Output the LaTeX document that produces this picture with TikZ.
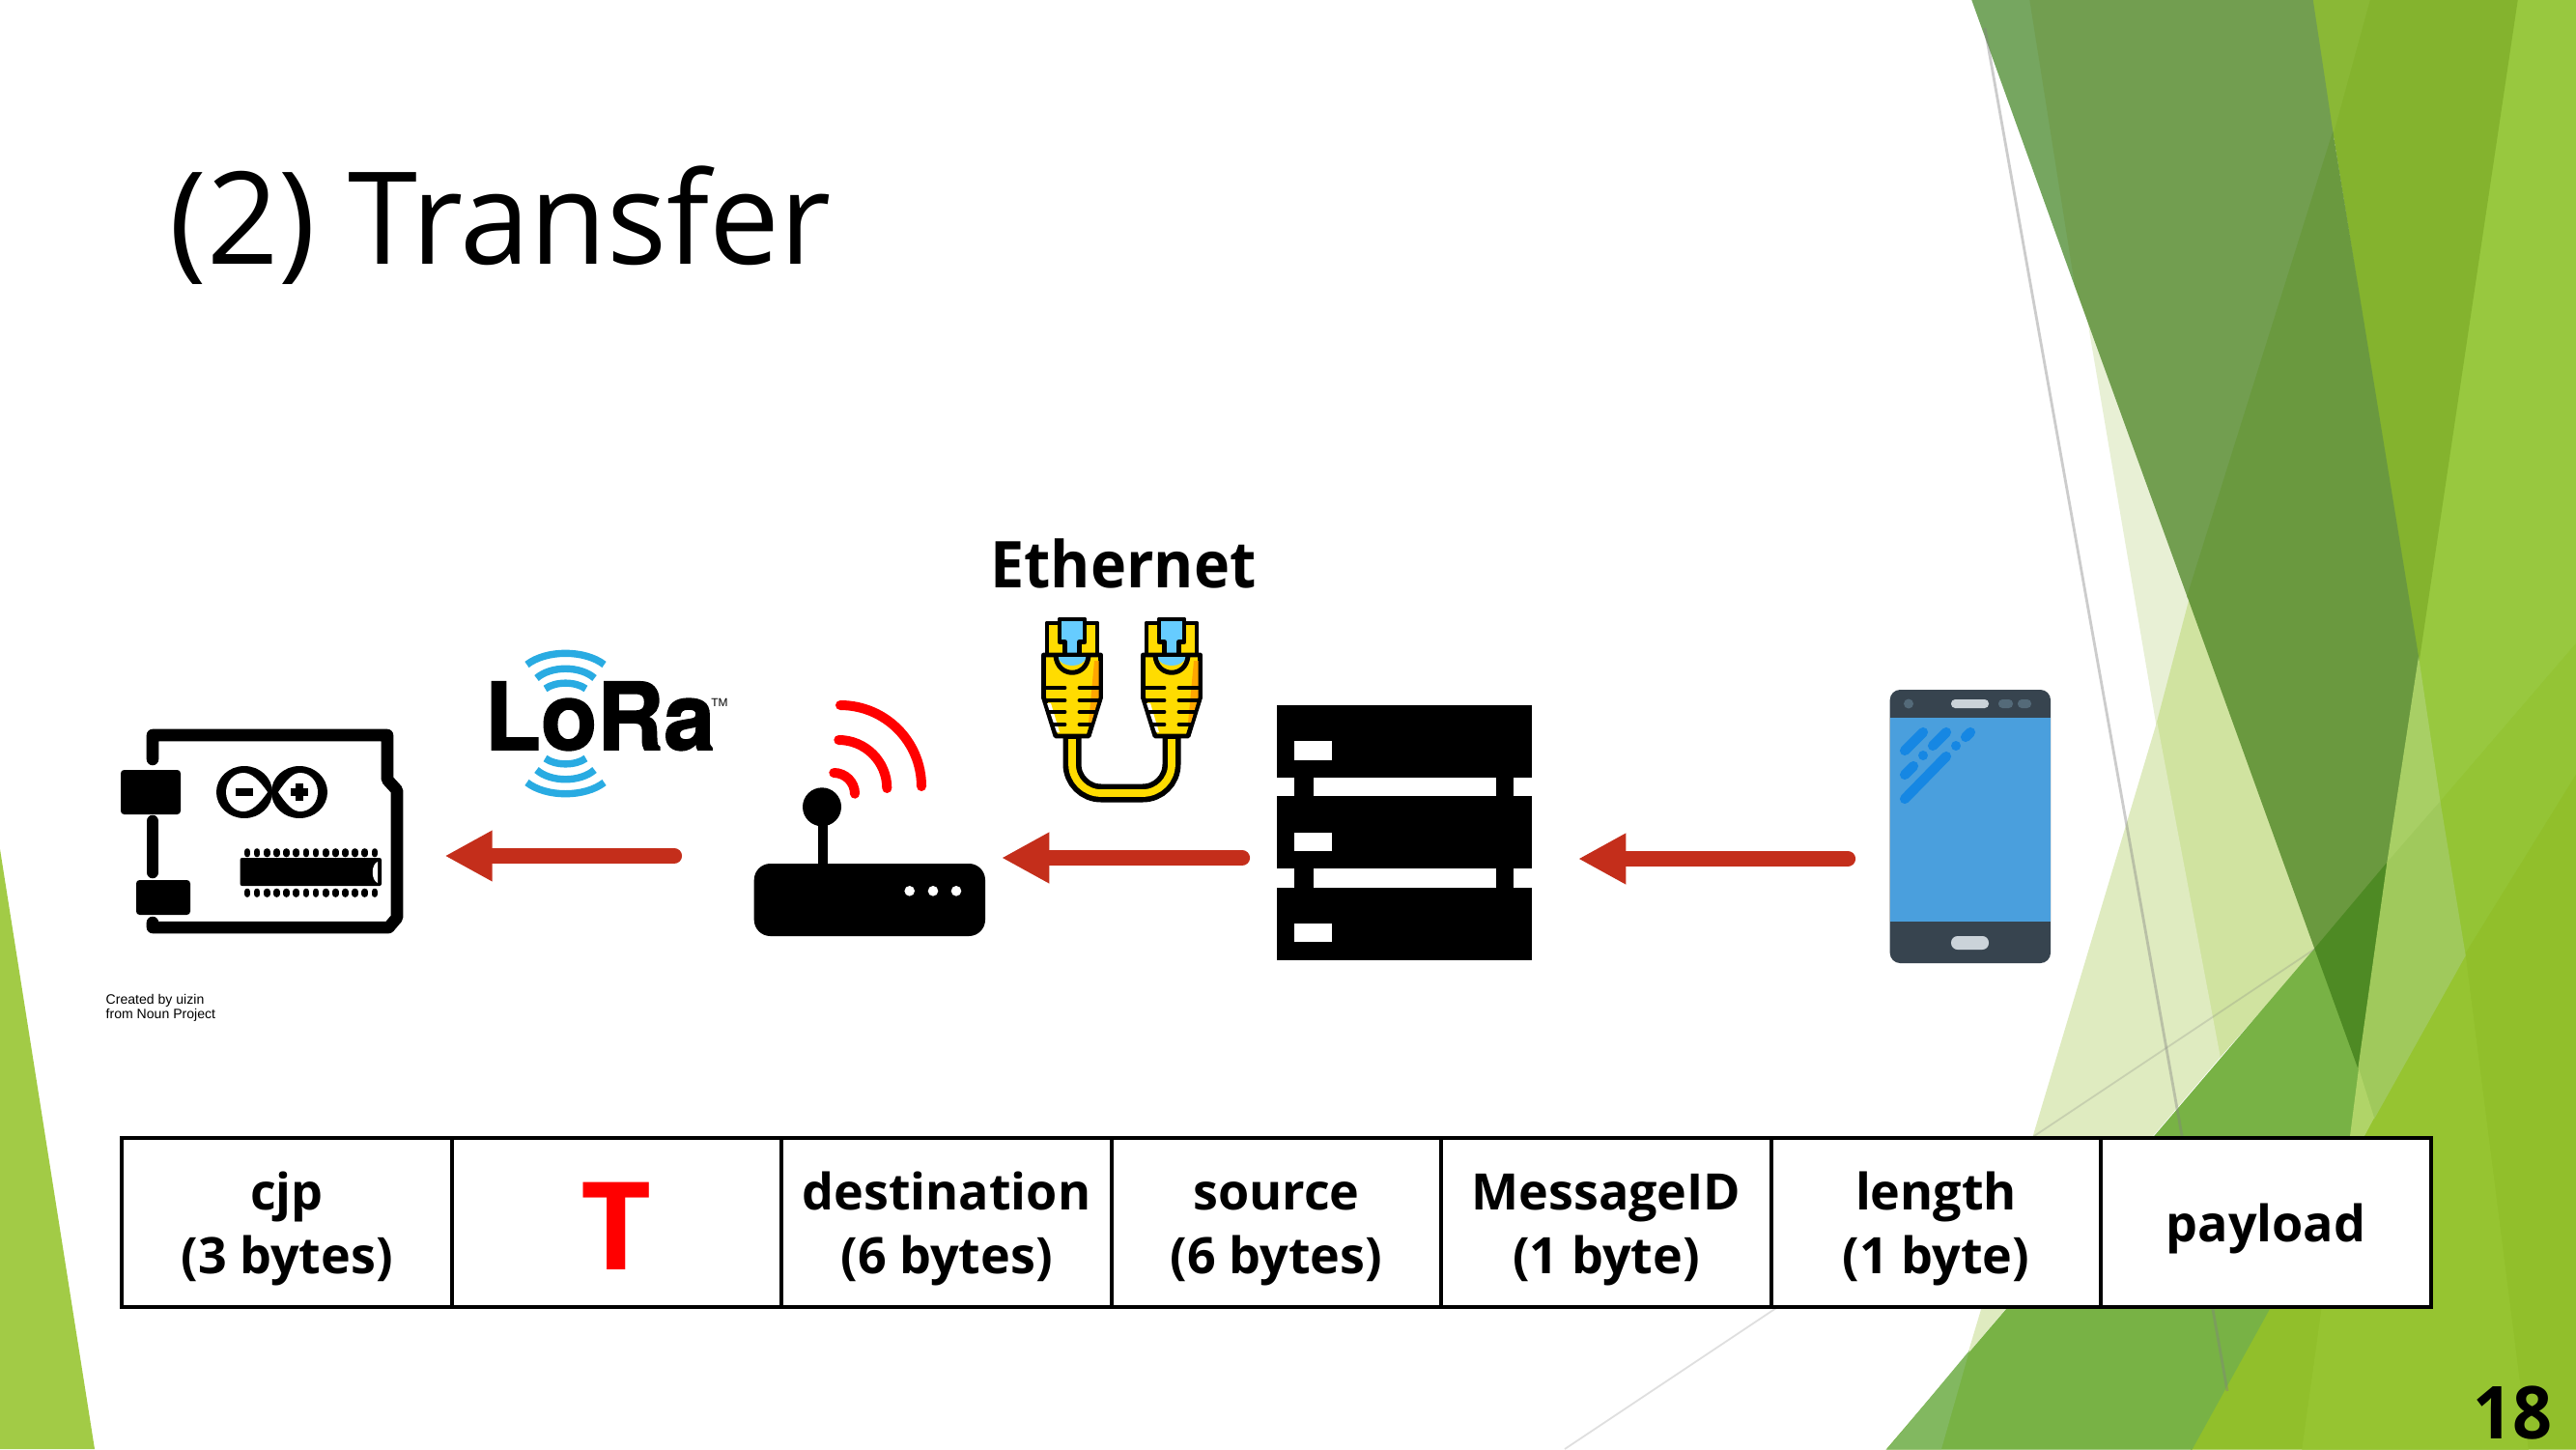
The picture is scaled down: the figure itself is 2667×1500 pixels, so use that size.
\documentclass[tikz,border=0pt]{standalone}
\usepackage{fontspec}
\usepackage{graphicx}
\setmainfont{Open Sans}
\newfontfamily\arialish{Liberation Sans}
\newfontfamily\lorafont[BoldFeatures={FakeBold=1.6}]{TeX Gyre Heros}
\usetikzlibrary{arrows.meta,shapes.geometric}
\definecolor{flowred}{HTML}{C42E1B}
\definecolor{lorablue}{HTML}{29ABE2}
\definecolor{plugyellow}{HTML}{FFDC00}
\definecolor{plugblue}{HTML}{66CCFF}
\definecolor{phonedark}{HTML}{37444F}
\definecolor{phonescreen}{HTML}{4A9FDD}
\definecolor{phonestreak}{HTML}{1687E3}
\definecolor{phonepale}{HTML}{CBD3D9}
\definecolor{phonemid}{HTML}{546A79}
\definecolor{fa}{HTML}{A2CB46}\definecolor{fb}{HTML}{E8F0D5}\definecolor{fc}{HTML}{D0E3A0}
\definecolor{fd}{HTML}{DFEBC0}\definecolor{fe}{HTML}{78B245}\definecolor{ff}{HTML}{82B860}
\definecolor{fg}{HTML}{76A660}\definecolor{fh}{HTML}{729E50}\definecolor{fi}{HTML}{6A993F}
\definecolor{fj}{HTML}{84B32E}\definecolor{fk}{HTML}{8AB836}\definecolor{fl}{HTML}{98C83F}
\definecolor{fm}{HTML}{4E8A24}\definecolor{fn}{HTML}{A8CF65}\definecolor{fo}{HTML}{A0C95C}
\definecolor{fp}{HTML}{91BF2B}\definecolor{fq}{HTML}{94C435}\definecolor{fr}{HTML}{B0D468}
\definecolor{fs}{HTML}{96C431}
\newcommand{\cellstrut}{\rule[-1.32pt]{0pt}{16.32pt}}
\tikzset{
  flow/.style={draw=flowred,line width=4.6pt,line cap=round,-{Triangle[length=14pt,width=14pt,color=flowred]}},
  cell/.style={draw=black,line width=1.1pt,fill=white,minimum width=97.2pt,minimum height=49.8pt,inner sep=0pt,align=center,
    font=\fontsize{14.8pt}{18.8pt}\selectfont\bfseries},
  boardline/.style={draw=black,line width=3.56pt,line cap=round,line join=round},
  streak/.style={draw=phonestreak,line width=2.9pt,line cap=round},
  wifiarc/.style={draw=red,line width=2.85pt,line cap=round},
  loraarc/.style={draw=lorablue,line width=2.1pt},
  plugline/.style={draw=black,line width=1.4pt,line join=round},
  band/.style={draw=black,line width=1.4pt,line cap=round},
  seam/.style={line width=.4pt},
}
\newcommand{\plugicon}{%
  \fill[plugyellow,plugline] (1084,645) rectangle (1136,678);
  \fill[plugblue,plugline] (1097,641) -- (1123,641) -- (1123,664.5) -- (1117.5,664.5) -- (1117.5,678) -- (1102.5,678) -- (1102.5,664.5) -- (1097,664.5) -- cycle;
  \fill[plugyellow,plugline] (1080.5,678) -- (1139.5,678) -- (1139.5,722) -- (1127,762) -- (1093,762) -- (1080.5,722) -- cycle;
  \fill[orange!70!yellow] (1133,684) -- (1137.5,684) -- (1137.5,722) -- (1130,748) -- (1127,748) -- cycle;
  \fill[white] (1084,728) -- (1088,728) -- (1097,758) -- (1094,758) -- cycle;
  \fill[plugblue] (1095,680) .. controls (1098,692) and (1122,692) .. (1125,680) -- cycle;
  \draw[plugline] (1093,679) .. controls (1095,702) and (1125,702) .. (1127,679);
  \foreach \yy/\xa/\xb in {712/1082/1138,725/1083/1137,737/1086/1134,750/1090/1130}{
    \draw[band] (\xa,\yy) -- (1102,\yy);
    \draw[band] (1118,\yy) -- (\xb,\yy);
  }
}
\begin{document}
\begin{tikzpicture}[x=0.01cm,y=-0.01cm]
\useasboundingbox (0,0) rectangle (2667,1500);
\fill[white] (0,0) rectangle (2667,1500);
% left facet
\fill[fa] (0,879) -- (98,1500) -- (0,1500) -- cycle;
% pale facets
\filldraw[fb,seam] (2156,297) -- (2275,640) -- (2233,750) -- cycle;
\filldraw[fc,seam] (2268,617) -- (2330,750) -- (2397,982) -- (2298,1094) -- (2233,750) -- cycle;
\filldraw[fd,seam] (2233,750) -- (2298,1094) -- (2039,1398) -- cycle;
% right base
\filldraw[fl,seam] (2606,0) -- (2667,0) -- (2667,803) -- (2552,989) -- (2526,831) -- (2504,684) -- cycle;
\filldraw[fq,seam] (2526,831) -- (2667,667) -- (2667,803) -- (2552,989) -- cycle;
\filldraw[fp,seam] (2667,803) -- (2667,1500) -- (2269,1500) -- (2552,989) -- cycle;
\filldraw[fs,seam] (2448,1176) -- (2552,989) -- (2617,1500) -- (2384,1500) -- (2429,1176) -- cycle;
% lower green
\filldraw[fe,seam] (2397,982) -- (2442,1106) -- (2433,1176) -- (2448,1176) -- (2269,1500) -- (1954,1500) -- cycle;
\fill[ff] (1954,1500) -- (2010,1500) -- (2039,1398) -- cycle;
% upper dark facets
\filldraw[fg,seam] (2042,0) -- (2102,0) -- (2149,297) -- cycle;
\filldraw[fj,seam] (2394,0) -- (2606,0) -- (2504,684) -- cycle;
\filldraw[fk,seam] (2394,0) -- (2453,0) -- (2415,139) -- cycle;
\filldraw[fh,seam] (2102,0) -- (2394,0) -- (2415,139) -- (2265,617) -- (2149,297) -- cycle;
\filldraw[fi,seam] (2415,139) -- (2504,684) -- (2472,893) -- (2397,982) -- (2265,617) -- cycle;
\filldraw[fm,seam] (2397,982) -- (2472,893) -- (2442,1106) -- cycle;
\filldraw[fn,seam] (2504,684) -- (2526,831) -- (2472,893) -- cycle;
\filldraw[fo,seam] (2472,893) -- (2526,831) -- (2552,989) -- (2458,1157) -- (2442,1106) -- cycle;
\fill[fr] (2442,1106) -- (2458,1157) -- (2448,1176) -- (2433,1176) -- cycle;
% thin lines
\draw[gray,opacity=.4,line width=0.8pt] (2055,29) -- (2306,1440);
\draw[gray,opacity=.25,line width=0.5pt] (2397,982) -- (1620,1500);

% title
\node[anchor=base west,inner sep=0pt,font=\fontsize{37.8pt}{40pt}\selectfont] (title) at (175,273) {\scalebox{.978}[1]{(2) Transfer}};

% Arduino board
\draw[boardline] (158,786) -- (158,761) -- (401,761) -- (401,807) -- (411,818) -- (411,950) -- (402.5,960) -- (158,960) -- (158,955);
\draw[boardline] (158,850) -- (158,903);
\fill[black,rounded corners=1pt] (125,797) rectangle (187,843);
\fill[black,rounded corners=1pt] (141,911) rectangle (197,947);
\fill[black] (253,820) ellipse (29 and 27);
\fill[black] (310,820) ellipse (29 and 27);
\fill[white] (277,820) .. controls (268,807) and (260,800) .. (252,800) .. controls (242,800) and (234,809) .. (234,820) .. controls (234,831) and (242,840) .. (252,840) .. controls (260,840) and (268,833) .. (277,820) -- cycle;
\fill[white] (288,820) .. controls (297,807) and (303,800) .. (311,800) .. controls (321,800) and (329,809) .. (329,820) .. controls (329,831) and (321,840) .. (311,840) .. controls (303,840) and (297,833) .. (288,820) -- cycle;
\draw[black,line width=2pt] (244,820) -- (262,820);
\draw[black,line width=2.2pt] (301,820) -- (319,820) (310,811) -- (310,829);
\fill[black,rounded corners=0.6pt] (248.5,888) rectangle (395,917);
\fill[white] (391,892) .. controls (384,895) and (384,911) .. (391,914) -- cycle;
\foreach \i in {0,...,13}{
  \draw[black,line width=1.9pt,line cap=round] ({256+\i*10.15},881.5) -- ({256+\i*10.15},884);
  \draw[black,line width=1.9pt,line cap=round] ({256+\i*10.15},923) -- ({256+\i*10.15},925.5);
}
\node[anchor=north west,inner sep=0pt,align=left,font=\arialish\fontsize{4pt}{4.1pt}\selectfont] (credit) at (109,1029) {Created by uizin\\from Noun Project};

% LoRa logo
\node[anchor=base west,inner sep=0pt,font=\lorafont\bfseries\fontsize{27.4pt}{28pt}\selectfont] (lora) at (501,776) {\scalebox{.99}[1]{LoRa}};
\node[anchor=center,inner sep=0pt,font=\arialish\fontsize{3.4pt}{4pt}\selectfont] (tm) at (745,727) {TM};
\foreach \hw/\yy/\bend in {40/688/-12,30/702/-10,21/713/-6}{
  \draw[loraarc] (585.5-\hw,\yy) .. controls (585.5-\hw/2,\yy+\bend*1.3) and (585.5+\hw/2,\yy+\bend*1.3) .. (585.5+\hw,\yy);
}
\foreach \hw/\yy/\bend in {40/810/12,30/797/10,21/785/6}{
  \draw[loraarc] (585.5-\hw,\yy) .. controls (585.5-\hw/2,\yy+\bend*1.3) and (585.5+\hw/2,\yy+\bend*1.3) .. (585.5+\hw,\yy);
}

% router
\fill[black,rounded corners=4.8pt] (780.7,894) rectangle (1020,969);
\fill[black] (846.7,840) rectangle (856.7,895);
\fill[black] (851,835.3) circle (20);
\foreach \xx in {941.7,966,990}{\fill[white] (\xx,922.3) circle (5.3);}
\draw[wifiarc] (870,730) arc[start angle=-90,end angle=0,radius=84];
\draw[wifiarc] (868.3,766) arc[start angle=-90,end angle=0,radius=50];
\draw[wifiarc] (863.3,800) arc[start angle=-90,end angle=0,radius=21.7];

% Ethernet
\node[anchor=base,inner sep=0pt,font=\fontsize{19pt}{20pt}\selectfont\bfseries] (eth) at (1163,608) {\scalebox{.94}[1]{Ethernet}};
\draw[black,line width=5.4pt,rounded corners=8.5pt] (1110,762) -- (1110,821) -- (1213,821) -- (1213,762);
\draw[plugyellow,line width=2.2pt,rounded corners=8.5pt] (1110,765) -- (1110,821) -- (1213,821) -- (1213,765);
\plugicon
\begin{scope}[shift={(103,0)}]
\plugicon
\end{scope}

% server
\fill[black] (1340,805) rectangle (1360,824);
\fill[black] (1548.6,805) rectangle (1567,824);
\fill[black] (1340,899) rectangle (1360,919);
\fill[black] (1548.6,899) rectangle (1567,919);
\fill[black] (1321.6,730) rectangle (1586,805);
\fill[black] (1321.6,824) rectangle (1586,899);
\fill[black] (1321.6,919) rectangle (1586,994);
\fill[white] (1340,767) rectangle (1379,787);
\fill[white] (1340,862) rectangle (1379,881);
\fill[white] (1340,956) rectangle (1379,975);

% phone
\fill[phonedark,rounded corners=3pt] (1956.7,714) rectangle (2123,997);
\fill[phonescreen] (1956.7,743.3) rectangle (2123,954);
\fill[phonepale,rounded corners=1.2pt] (2020,724) rectangle (2059,733);
\fill[phonemid] (1976,728.5) circle (5);
\fill[phonemid,rounded corners=1.2pt] (2069,724) rectangle (2084,733);
\fill[phonemid,rounded corners=1.2pt] (2089,724) rectangle (2103,733);
\fill[phonepale,rounded corners=1.9pt] (2020,969) rectangle (2059,983);
\draw[streak] (1972,777) -- (1991,758);
\draw[streak] (2001,772) -- (2015,758);
\draw[streak] (2035,763) -- (2040,758);
\draw[streak] (1972,802) -- (1981,793);
\draw[streak] (1972,827) -- (2015,783);
\fill[phonestreak] (1991,782) circle (5);
\fill[phonestreak] (2025,772) circle (5);

% connectors
\coordinate (phoneout) at (1913,889);
\coordinate (serverin) at (1634,889);
\coordinate (serverout) at (1286,888);
\coordinate (routerin) at (1037,888);
\coordinate (routerout) at (698,886);
\coordinate (boardin) at (460.5,886);
\draw[flow] (phoneout) -- (serverin);
\draw[flow] (serverout) -- (routerin);
\draw[flow] (routerout) -- (boardin);

% frame table
\node[cell] (c1) at (297,1265.5) {\cellstrut cjp\\\cellstrut (3 bytes)};
\node[cell,font=\fontsize{36pt}{36pt}\selectfont\bfseries,text=red] (c2) at (638.5,1265.5) {\rule{0pt}{27.7pt}T};
\node[cell] (c3) at (980,1265.5) {\cellstrut destination\\\cellstrut (6 bytes)};
\node[cell] (c4) at (1321.5,1265.5) {\cellstrut source\\\cellstrut (6 bytes)};
\node[cell] (c5) at (1663,1265.5) {\cellstrut MessageID\\\cellstrut (1 byte)};
\node[cell] (c6) at (2004.5,1265.5) {\cellstrut length\\\cellstrut (1 byte)};
\node[cell] (c7) at (2346,1265.5) {\cellstrut payload};

% page number
\node[anchor=base east,inner sep=0pt,font=\fontsize{21.5pt}{22pt}\selectfont\bfseries] (page) at (2643,1489) {\scalebox{.95}[1]{18}};
\end{tikzpicture}
\end{document}
